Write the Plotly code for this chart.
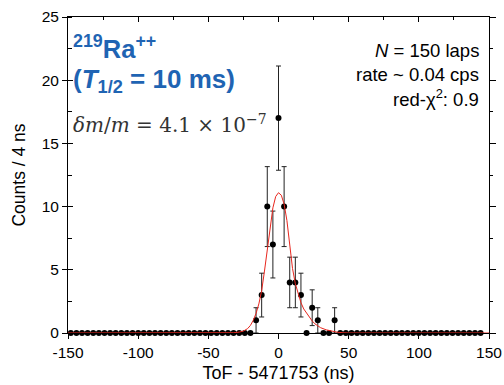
import numpy as np
import plotly.graph_objects as go

# ---- data ----
tof_ns = [-148, -144, -140, -136, -132, -128, -124, -120, -116, -112, -108, -104,
          -100, -96, -92, -88, -84, -80, -76, -72, -68, -64, -60, -56, -52, -48,
          -44, -40, -36, -32, -28, -24, -20, -16, -12, -8, -4, 0, 4, 8, 12, 16,
          20, 24, 28, 32, 36, 40, 44, 48, 52, 56, 60, 64, 68, 72, 76, 80, 84, 88,
          92, 96, 100, 104, 108, 112, 116, 120, 124, 128, 132, 136, 140, 144]
counts = [0, 0, 0, 0, 0, 0, 0, 0, 0, 0, 0, 0,
          0, 0, 0, 0, 0, 0, 0, 0, 0, 0, 0, 0, 0, 0,
          0, 0, 0, 0, 0, 0, 0, 1, 3, 10, 7, 17, 10, 4, 4, 3,
          0, 2, 1, 0, 0, 1, 0, 0, 0, 0, 0, 0, 0, 0, 0, 0, 0, 0,
          0, 0, 0, 0, 0, 0, 0, 0, 0, 0, 0, 0, 0, 0]
count_err = np.sqrt(np.array(counts, dtype=float))

# fit curve
fit_x = [-150, -40, -32, -28, -25, -22, -20, -18, -16, -14, -12, -10, -8, -6, -4, -2,
         0, 2, 4, 6, 8, 10, 12, 14, 16, 18, 20, 22, 24, 26, 28, 30, 34, 38, 42, 46, 50, 150]
fit_y = [0, 0, 0.02, 0.07, 0.15, 0.35, 0.6, 1.0, 1.55, 2.3, 3.35, 4.9, 6.7, 8.5, 9.9, 10.8,
         11.1, 10.9, 10.2, 8.9, 6.8, 5.1, 3.9, 3.1, 2.4, 1.9, 1.55, 1.2, 0.95, 0.72, 0.55, 0.42,
         0.25, 0.13, 0.06, 0.02, 0, 0]

x_ticks = [-150, -100, -50, 0, 50, 100, 150]
x_tick_labels = ["-150", "-100", "-50", "0", "50", "100", "150"]
y_ticks = [0, 5, 10, 15, 20, 25]
y_tick_labels = ["0", "5", "10", "15", "20", "25"]

FONT = "Liberation Sans, Arial, Helvetica, sans-serif"
BLUE = "#1f64b3"
RED = "#e8261e"

fig = go.Figure()
fig.add_trace(go.Scatter(
    x=tof_ns, y=counts, mode="markers",
    marker=dict(color="black", size=6),
    error_y=dict(type="data", array=count_err, visible=True, color="#222222",
                 thickness=1, width=2.5),
    cliponaxis=False, showlegend=False))
fig.add_trace(go.Scatter(
    x=fit_x, y=fit_y, mode="lines", line=dict(color=RED, width=1),
    cliponaxis=False, showlegend=False))

fig.update_layout(
    width=504, height=385,
    margin=dict(l=68, r=15, t=17, b=52),
    paper_bgcolor="white", plot_bgcolor="white",
    font=dict(family=FONT, size=15, color="black"),
    xaxis=dict(range=[-150, 150], tickvals=x_ticks, ticktext=x_tick_labels,
               ticks="outside", ticklen=5, automargin=False,
               tickwidth=1, tickcolor="black", showline=True, linecolor="black",
               linewidth=1, showgrid=False, zeroline=False,
               tickfont=dict(size=15.5),
               title=dict(text="ToF - 5471753 (ns)", font=dict(size=18), standoff=6)),
    xaxis2=dict(range=[-150, 150], overlaying="x", side="top", tickvals=x_ticks,
                ticks="inside", ticklen=5, tickcolor="black", showline=True,
                linecolor="black", showticklabels=False, showgrid=False, zeroline=False,
                automargin=False,
                minor=dict(dtick=25, tick0=0, ticks="inside", ticklen=3, tickcolor="black")),
    yaxis=dict(range=[0, 25], tickvals=y_ticks, ticktext=y_tick_labels,
               ticks="outside", ticklen=5, automargin=False,
               tickcolor="black", showline=True, linecolor="black", linewidth=1,
               showgrid=False, zeroline=False, tickfont=dict(size=15.5),
               minor=dict(dtick=2.5, tick0=0, ticks="inside", ticklen=4, tickcolor="black"),
               title=dict(text="Counts / 4 ns", font=dict(size=17.5), standoff=11)),
    yaxis2=dict(range=[0, 25], overlaying="y", side="right", tickvals=y_ticks,
                ticks="outside", ticklen=6, tickcolor="black", showline=True,
                linecolor="black", showticklabels=False, showgrid=False, zeroline=False,
                automargin=False,
                minor=dict(dtick=2.5, tick0=0, ticks="outside", ticklen=3, tickcolor="black")),
    yaxis3=dict(range=[0, 25], overlaying="y", side="left", tickvals=y_ticks,
                ticks="inside", ticklen=5, tickcolor="black", showline=False,
                showticklabels=False, showgrid=False, zeroline=False, automargin=False),
)
# invisible traces to activate the extra axes
fig.add_trace(go.Scatter(x=[0], y=[0], xaxis="x2", yaxis="y2", mode="markers",
                         marker=dict(opacity=0), showlegend=False, hoverinfo="skip"))
fig.add_trace(go.Scatter(x=[0], y=[0], xaxis="x", yaxis="y3", mode="markers",
                         marker=dict(opacity=0), showlegend=False, hoverinfo="skip"))

ann = []
ann.append(dict(text="<b><sup>219</sup>Ra<sup>++</sup></b>", x=0.008, y=0.905,
                xref="paper", yref="paper", xanchor="left", yanchor="middle",
                showarrow=False, font=dict(size=25.5, color=BLUE, family=FONT)))
ann.append(dict(text="<b>(<i>T</i><sub>1/2</sub> = 10 ms)</b>", x=0.008, y=0.80,
                xref="paper", yref="paper", xanchor="left", yanchor="middle",
                showarrow=False, font=dict(size=26, color=BLUE, family=FONT)))
ann.append(dict(text="<i>δm</i>/<i>m</i> = 4.1 × 10<sup>−7</sup>", x=0.008, y=0.66,
                xref="paper", yref="paper", xanchor="left", yanchor="middle",
                showarrow=False,
                font=dict(size=20, color="#333333", family="DejaVu Serif, serif")))
right_lines = ["<i>N</i> = 150 laps", "rate ~ 0.04 cps", "red-χ<sup>2</sup>: 0.9"]
right_y = [0.895, 0.818, 0.745]
for t, yy in zip(right_lines, right_y):
    ann.append(dict(text=t, x=0.98, y=yy, xref="paper", yref="paper",
                    xanchor="right", yanchor="middle", showarrow=False,
                    font=dict(size=18.5, color="black", family=FONT)))
fig.update_layout(annotations=ann)

fig.write_html("out.html", config={"displayModeBar": False},
               post_script="document.body.style.margin='0px';document.body.style.padding='0px';")
